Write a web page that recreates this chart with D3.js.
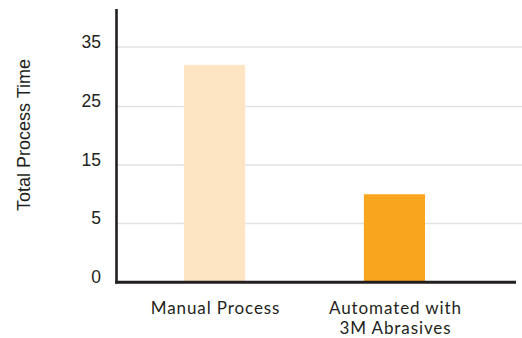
<!DOCTYPE html>
<html>
<head>
<meta charset="utf-8">
<script src="https://cdn.jsdelivr.net/npm/d3@7"></script>
<style>
  html, body { margin: 0; padding: 0; background: #fff; }
  svg { display: block; }
</style>
</head>
<body>
<svg id="chart" width="522" height="338"></svg>
<script>
// Chart data
const categories = ["Manual Process", "Automated with\n3M Abrasives"];
const values = [32, 10];
const barColors = ["#FDE5C3", "#F9A61E"];
const tickValues = [0, 5, 15, 25, 35];
const yTitle = "Total Process Time";

const svg = d3.select("#chart");
const W = 522, H = 338;

// Axis labels are unevenly spaced in value, evenly spaced on screen: piecewise-linear scale
const y = d3.scaleLinear()
  .domain([0, 5, 15, 25, 35, 41.4])
  .range([282, 223.5, 165, 106.5, 47, 9]);

const x = d3.scaleBand()
  .domain(categories)
  .range([94, 515])
  .paddingInner(0.66)
  .paddingOuter(0.5);

const axisX = 116.5;

// Gridlines
svg.append("g")
  .selectAll("line")
  .data(tickValues.filter(d => d > 0))
  .join("line")
  .attr("x1", axisX)
  .attr("x2", W)
  .attr("y1", d => y(d))
  .attr("y2", d => y(d))
  .attr("stroke", "#e2e2e2")
  .attr("stroke-width", 1.6);

// Bars
svg.append("g")
  .selectAll("rect")
  .data(values)
  .join("rect")
  .attr("x", (d, i) => x(categories[i]))
  .attr("width", x.bandwidth())
  .attr("y", d => y(d))
  .attr("height", d => y(0) - y(d))
  .attr("fill", (d, i) => barColors[i]);

// Axis lines
svg.append("line")
  .attr("x1", axisX).attr("x2", axisX)
  .attr("y1", y.range()[5]).attr("y2", y(0) + 1.5)
  .attr("stroke", "#231f20")
  .attr("stroke-width", 2.6);

svg.append("line")
  .attr("x1", axisX - 1.3).attr("x2", 516)
  .attr("y1", y(0) + 0.3).attr("y2", y(0) + 0.3)
  .attr("stroke", "#231f20")
  .attr("stroke-width", 3);

// Tick labels
svg.append("g")
  .selectAll("text")
  .data(tickValues)
  .join("text")
  .attr("x", 101)
  .attr("y", d => y(d) + 0.5)
  .attr("text-anchor", "end")
  .attr("font-family", "Liberation Sans, Arial, sans-serif")
  .attr("font-size", 17.5)
  .attr("fill", "#231f20")
  .text(d => d);

// Y-axis title
svg.append("text")
  .attr("transform", "translate(30,135) rotate(-90)")
  .attr("text-anchor", "middle")
  .attr("font-family", "Liberation Sans, Arial, sans-serif")
  .attr("font-size", 18)
  .attr("fill", "#231f20")
  .text(yTitle);

// Category labels, one text element per line
const catLabels = svg.append("g")
  .selectAll("g")
  .data(categories)
  .join("g")
  .attr("transform", d => `translate(${x(d) + x.bandwidth() / 2 + 1},313.5)`);

catLabels.selectAll("text")
  .data(d => d.split("\n"))
  .join("text")
  .attr("x", 0)
  .attr("y", (d, i) => i * 20.6)
  .attr("text-anchor", "middle")
  .attr("font-family", "Lato, sans-serif")
  .attr("font-size", 17)
  .attr("letter-spacing", 0.9)
  .attr("fill", "#231f20")
  .text(d => d);
</script>
</body>
</html>
